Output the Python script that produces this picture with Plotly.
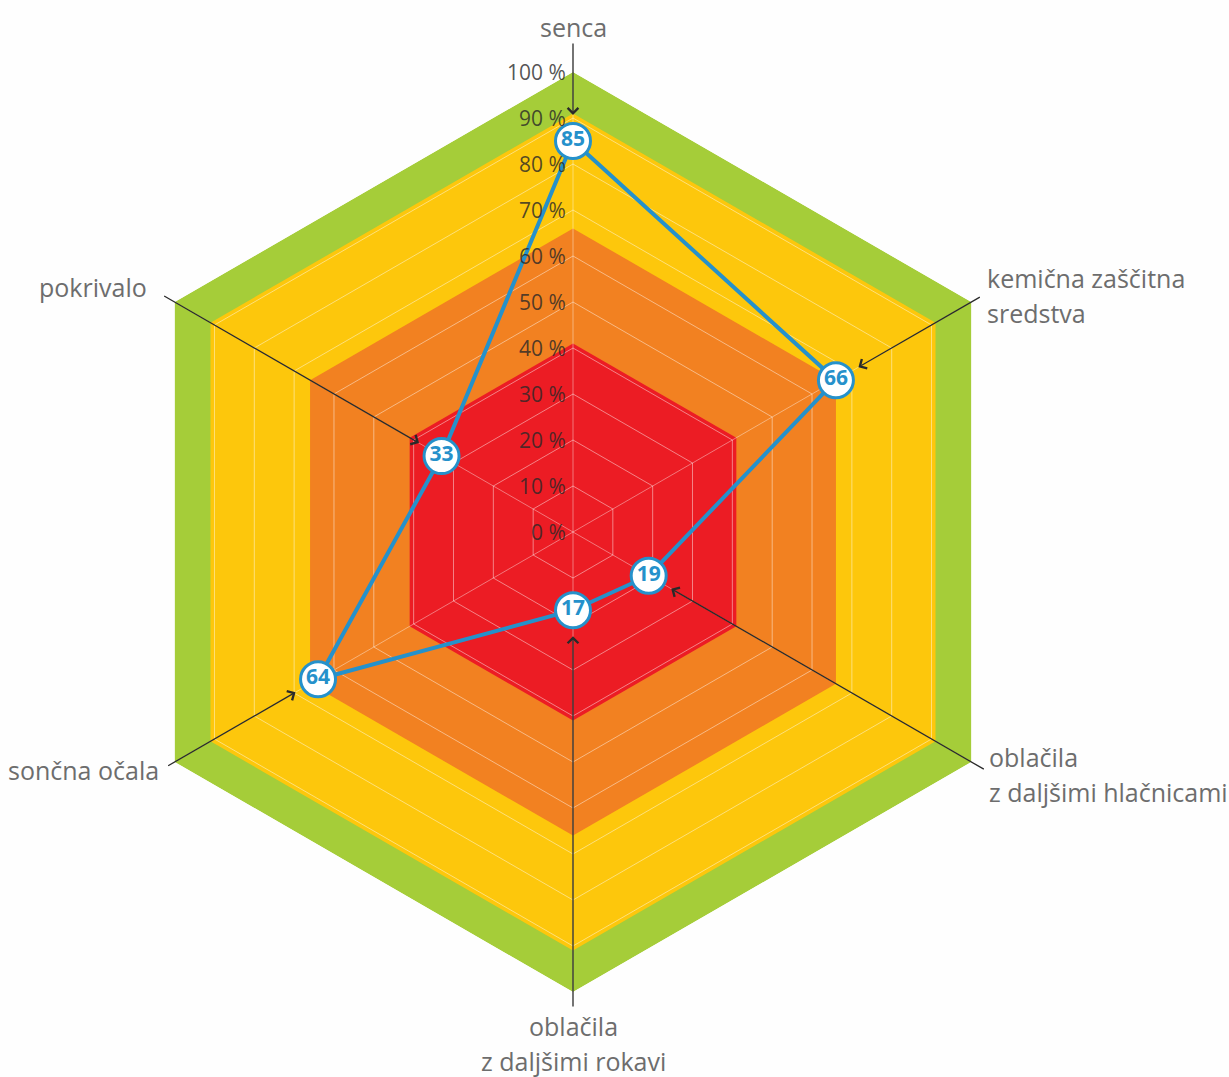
import numpy as np
import plotly.graph_objects as go

# ---------------- data ----------------
CATEGORIES = ["senca", "kemična zaščitna sredstva", "oblačila z daljšimi hlačnicami",
              "oblačila z daljšimi rokavi", "sončna očala", "pokrivalo"]
LABEL_LINES = [["senca"], ["kemična zaščitna", "sredstva"], ["oblačila", "z daljšimi hlačnicami"],
               ["oblačila", "z daljšimi rokavi"], ["sončna očala"], ["pokrivalo"]]
VALUES = [85, 66, 19, 17, 64, 33]
TICKS = [0, 10, 20, 30, 40, 50, 60, 70, 80, 90, 100]
TICK_LABELS = ["0 %", "10 %", "20 %", "30 %", "40 %", "50 %", "60 %", "70 %", "80 %", "90 %", "100 %"]
BAND_LEVELS = [100, 91, 66, 41]
BAND_COLORS = ["#a5cd39", "#fdc70c", "#f28121", "#ec1c24"]

# ---------------- geometry / style ----------------
W, H = 1229, 1077
CX, CY, RPX = 573, 532, 460
UNIT = RPX / 100.0
BLUE = "#2591cb"
FONT = "Open Sans"
TAIL_R = [106.5, 102.5, 103.5, 103.5, 102, 103]
HEAD_GAP = 26 / UNIT
TICK_GAP_PX = 5
# (x px, first-line y px, anchor)
LABEL_PX = [(573, 27, "center"), (985, 278, "left"), (987, 757, "left"),
            (573, 1026, "center"), (161, 770, "right"), (149, 287, "right")]
LINE_STEP = 35


def xy(r, k):
    a = np.radians(90 - 60 * k)
    return r * np.cos(a), r * np.sin(a)


def px2data(px, py):
    return (px - CX) / UNIT, (CY - py) / UNIT


closed = CATEGORIES + [CATEGORIES[0]]
fig = go.Figure()

# colored bands
for lvl, col in zip(BAND_LEVELS, BAND_COLORS):
    fig.add_trace(go.Scatterpolar(r=[lvl] * 7, theta=closed, mode="lines", fill="toself",
                                  fillcolor=col, line=dict(width=0, color=col),
                                  hoverinfo="skip", showlegend=False))

# grid rings
for t in TICKS[1:-1]:
    fig.add_trace(go.Scatterpolar(r=[t] * 7, theta=closed, mode="lines",
                                  line=dict(width=1, color="rgba(255,255,255,0.45)"),
                                  hoverinfo="skip", showlegend=False))
# spokes
sr, st = [], []
for c in CATEGORIES:
    sr += [0, TICKS[-1], None]
    st += [c, c, None]
fig.add_trace(go.Scatterpolar(r=sr, theta=st, mode="lines",
                              line=dict(width=1, color="rgba(255,255,255,0.4)"),
                              hoverinfo="skip", showlegend=False))

# data line
fig.add_trace(go.Scatterpolar(r=VALUES + [VALUES[0]], theta=closed, mode="lines",
                              line=dict(width=4, color=BLUE), hoverinfo="skip", showlegend=False))
# markers with values
fig.add_trace(go.Scatterpolar(r=VALUES, theta=CATEGORIES, mode="markers+text",
                              text=[str(v) for v in VALUES], textposition="middle center",
                              marker=dict(size=35, color="white", line=dict(width=3, color=BLUE)),
                              textfont=dict(family=FONT, size=21, color=BLUE, weight="bold"),
                              showlegend=False))

# dummy cartesian trace so annotation axes exist
fig.add_trace(go.Scatter(x=[0], y=[0], mode="markers", marker=dict(opacity=0),
                         hoverinfo="skip", showlegend=False))

annotations = []
# radial tick labels (drawn above the series line, as in the reference)
for t, lab in zip(TICKS, TICK_LABELS):
    annotations.append(dict(x=-TICK_GAP_PX / UNIT, y=t, xref="x", yref="y", text=lab,
                            showarrow=False, xanchor="right", yanchor="middle",
                            font=dict(family=FONT, size=21, color="rgba(40,40,40,0.8)")))
# arrows
for k, v in enumerate(VALUES):
    hx, hy = xy(v + HEAD_GAP, k)
    tx, ty = xy(TAIL_R[k], k)
    annotations.append(dict(x=hx, y=hy, ax=tx, ay=ty, xref="x", yref="y", axref="x", ayref="y",
                            text="", showarrow=True, arrowhead=4, arrowsize=1.6,
                            arrowwidth=1.3, arrowcolor="#2a2a2a", standoff=0, startstandoff=0))
# category labels
for lines, (px, py, anc) in zip(LABEL_LINES, LABEL_PX):
    for i, ln in enumerate(lines):
        x, y = px2data(px, py + i * LINE_STEP)
        annotations.append(dict(x=x, y=y, xref="x", yref="y", text=ln, showarrow=False,
                                xanchor=anc, yanchor="middle", align=anc,
                                font=dict(family=FONT, size=25, color="#6d6d6d")))

fig.update_layout(
    width=W, height=H, margin=dict(l=0, r=0, t=0, b=0),
    paper_bgcolor="#fefefe", plot_bgcolor="rgba(0,0,0,0)",
    polar=dict(
        domain=dict(x=[(CX - RPX) / W, (CX + RPX) / W],
                    y=[1 - (CY + RPX) / H, 1 - (CY - RPX) / H]),
        gridshape="linear", bgcolor="rgba(0,0,0,0)",
        radialaxis=dict(range=[0, 100], visible=False),
        angularaxis=dict(type="category", categoryarray=CATEGORIES, rotation=90,
                         direction="clockwise", visible=False),
    ),
    xaxis=dict(domain=[0, 1], range=[-CX / UNIT, (W - CX) / UNIT], visible=False, fixedrange=True),
    yaxis=dict(domain=[0, 1], range=[-(H - CY) / UNIT, CY / UNIT], visible=False, fixedrange=True),
    annotations=annotations,
)

fig.write_html("out.html")
